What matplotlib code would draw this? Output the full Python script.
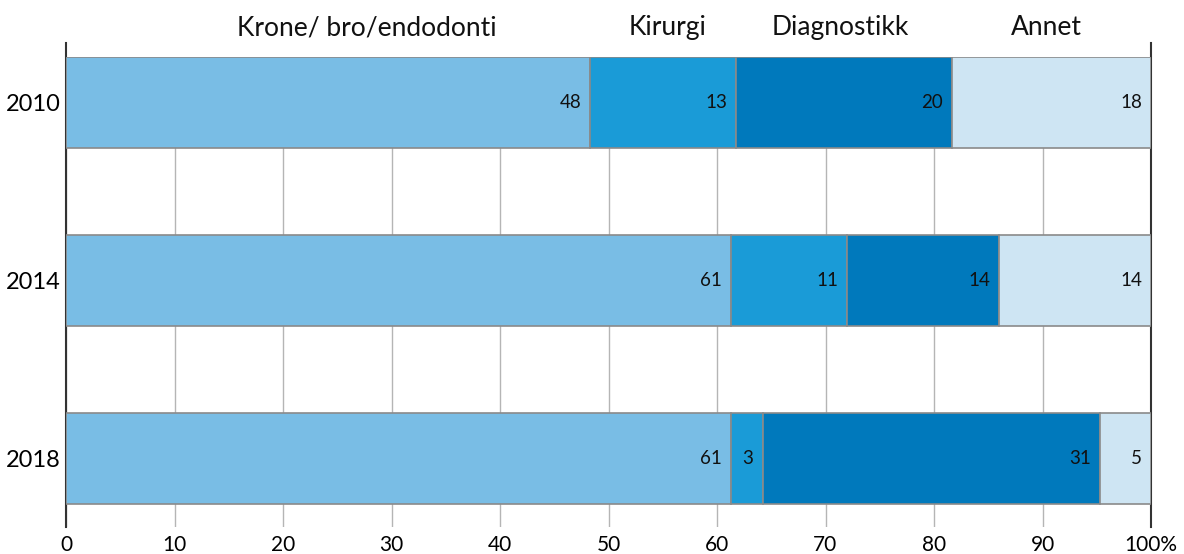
import matplotlib
matplotlib.use("Agg")
import matplotlib.pyplot as plt
import numpy as np

years = ["2010", "2014", "2018"]
categories = ["Krone/ bro/endodonti", "Kirurgi", "Diagnostikk", "Annet"]
krone = [48.3, 61.3, 61.3]
kirurgi = [13.45, 10.7, 2.9]
diagnostikk = [19.9, 14.0, 31.1]
annet = [18.35, 14.0, 4.7]
value_labels = [
    ["48", "61", "61"],
    ["13", "11", "3"],
    ["20", "14", "31"],
    ["18", "14", "5"],
]
xticks = [0, 10, 20, 30, 40, 50, 60, 70, 80, 90, 100]
xticklabels = ["0", "10", "20", "30", "40", "50", "60", "70", "80", "90", "100%"]
header_x = [27.7, 55.4, 71.4, 90.4]

colors = ["#79bde5", "#1a9bd7", "#0079bc", "#cee5f3"]

plt.rcParams['font.family'] = ['Lato', 'DejaVu Sans']

fig = plt.figure(figsize=(11.84, 5.54), dpi=100)
ax = fig.add_axes([66/1184, 1-527/554, (1151-66)/1184, (527-57)/554])

series = [krone, kirurgi, diagnostikk, annet]
ypos = np.arange(len(years))
bar_h = 0.51
left = np.zeros(len(years))
for i, vals in enumerate(series):
    vals = np.array(vals)
    bars = ax.barh(ypos, vals, left=left, height=bar_h, color=colors[i],
                   edgecolor="#8a8a8a", linewidth=1.2, zorder=3)
    for j, b in enumerate(bars):
        ax.annotate(value_labels[i][j], xy=(left[j] + vals[j], ypos[j]),
                    xytext=(-9, 0), textcoords="offset pixels",
                    ha="right", va="center", fontsize=13.5, color="#111111", zorder=4)
    left += vals

top = -bar_h / 2
ax.set_ylim(2 + bar_h / 2 + 0.129, top)
ax.set_xlim(0, 100)

ax.set_xticks(xticks)
ax.set_xticklabels(xticklabels, fontsize=15)
ax.set_yticks(ypos)
ax.set_yticklabels(years, fontsize=17)
ax.tick_params(axis="both", length=0)
ax.tick_params(axis="x", pad=6)
ax.tick_params(axis="y", pad=4)

ax.grid(axis="x", color="#b5b5b5", linewidth=1.0, zorder=0)
ax.set_axisbelow(True)

for s in ["top", "bottom"]:
    ax.spines[s].set_visible(False)
for s in ["left", "right"]:
    ax.spines[s].set_color("#333333")
    ax.spines[s].set_linewidth(1.5)
    ax.spines[s].set_bounds(2 + bar_h / 2 + 0.129, top - 0.08)

for name, hx in zip(categories, header_x):
    ax.text(hx, top - 0.165, name, ha="center", va="center", fontsize=19,
            color="#111111", transform=ax.transData, clip_on=False)

fig.savefig("out.png", dpi=100, facecolor="white")
